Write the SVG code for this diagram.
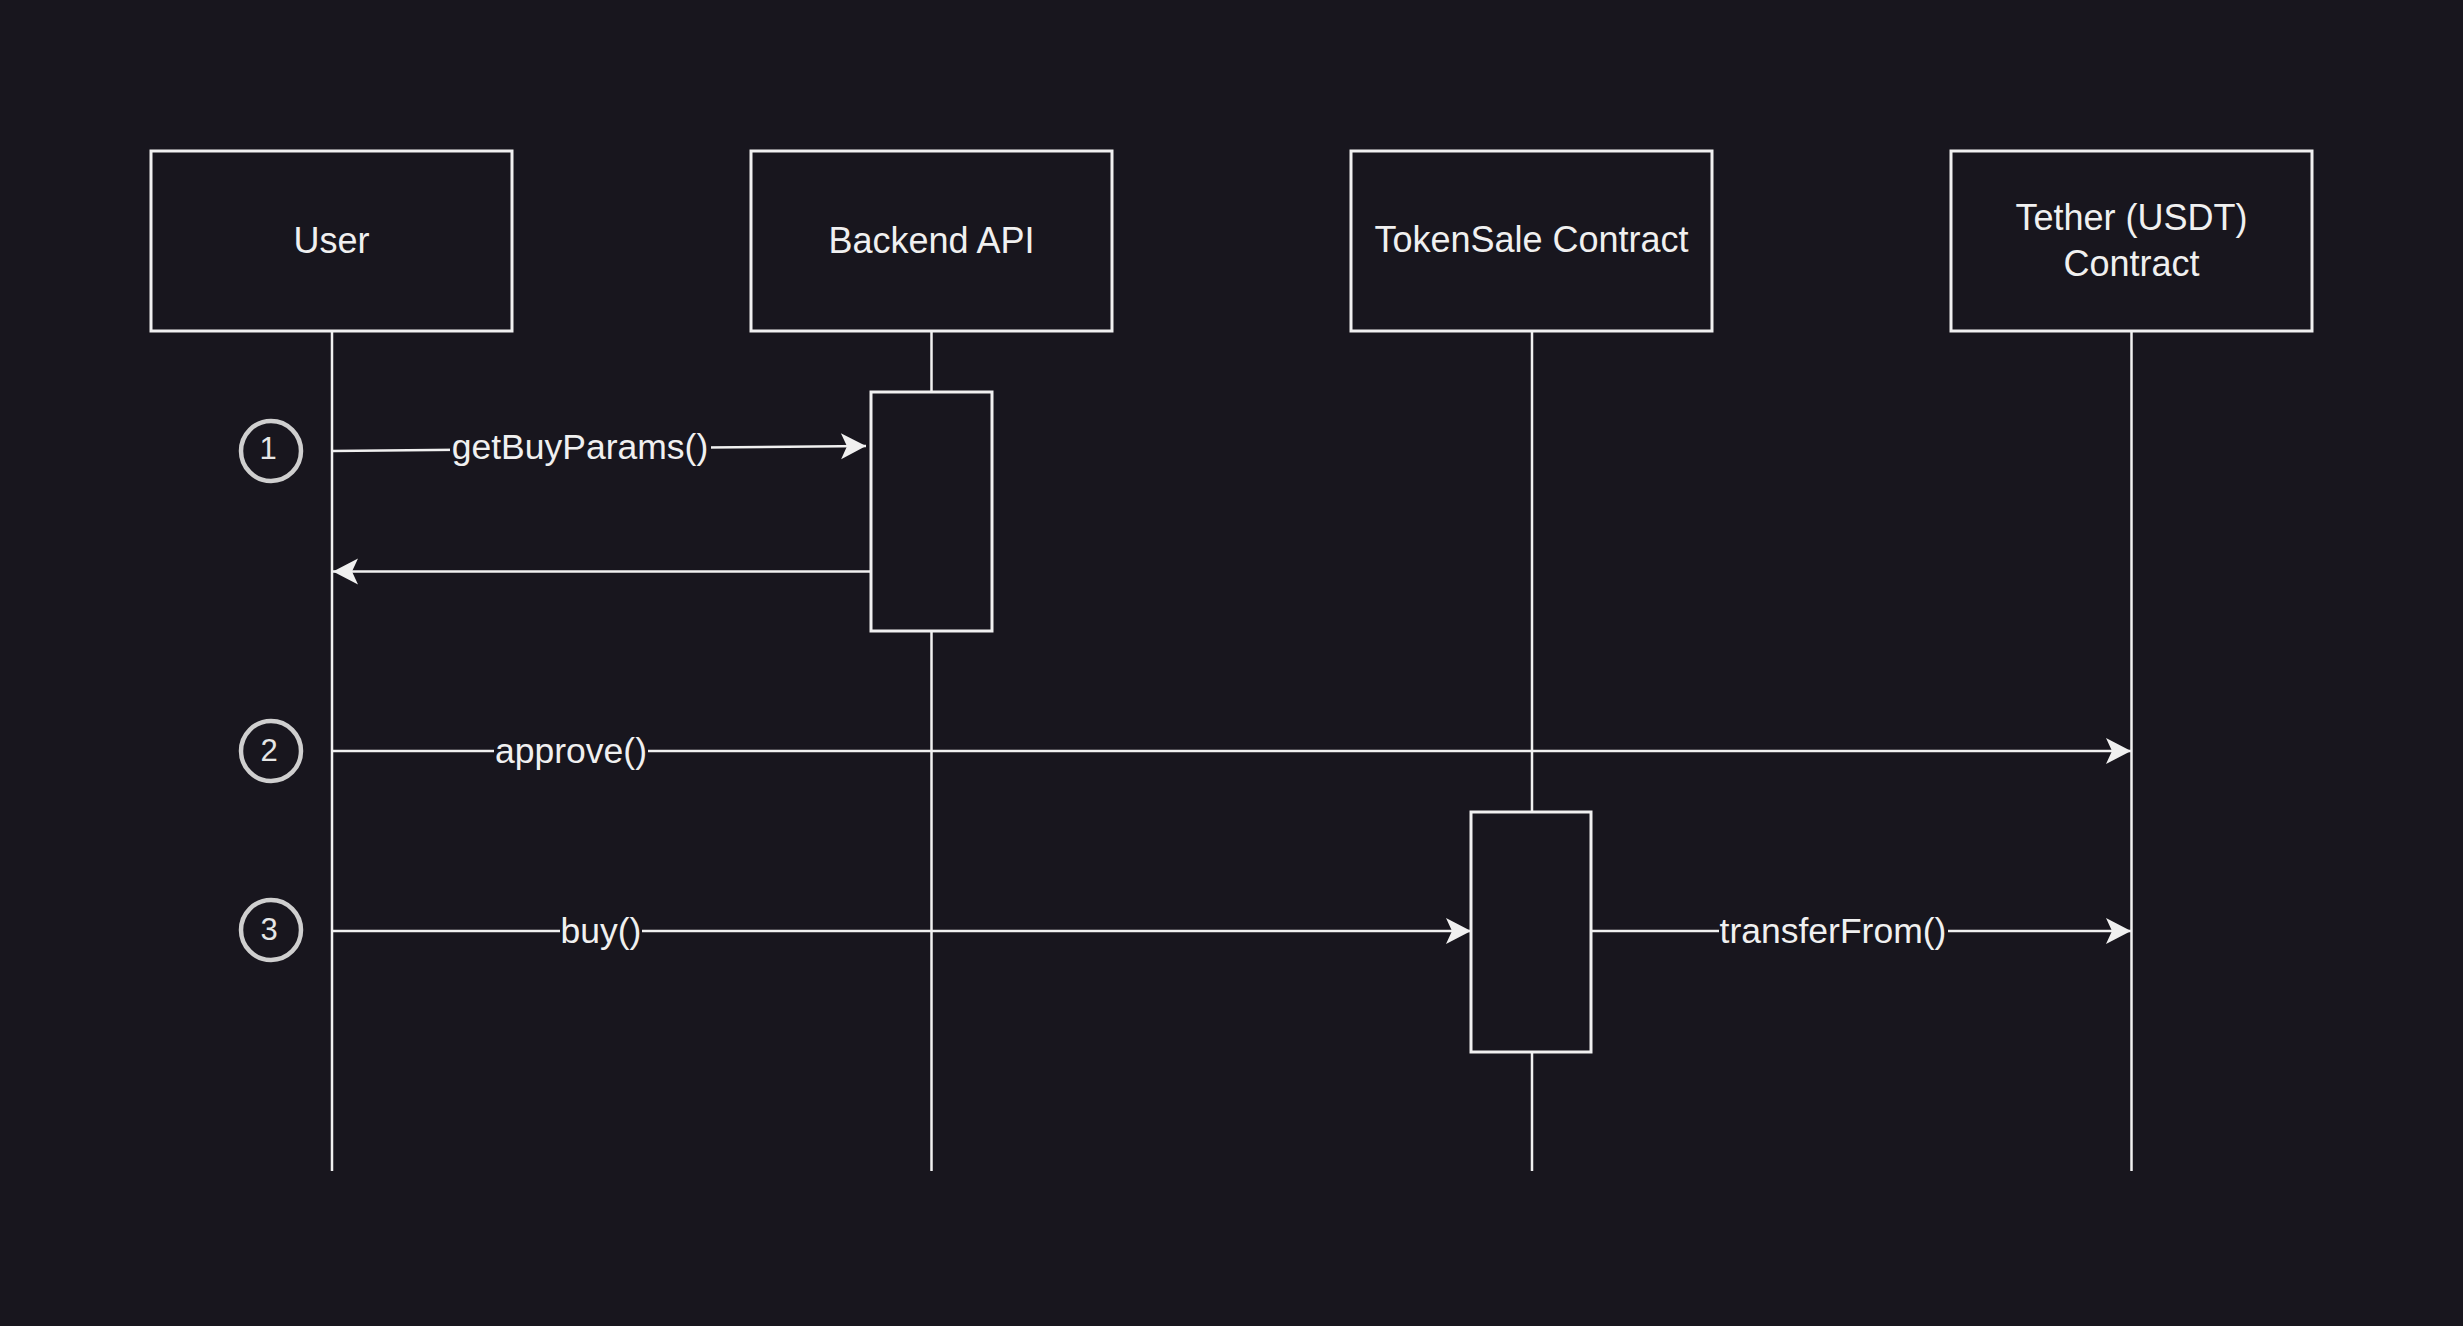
<svg xmlns="http://www.w3.org/2000/svg" width="2463" height="1326" viewBox="0 0 2463 1326">
<style>
.bg{fill:#18161e}
.box{fill:#18161e;stroke:#f0f0f0;stroke-width:3}
.life{stroke:#f0f0f0;stroke-width:2.5;fill:none}
.msg{stroke:#f0f0f0;stroke-width:2.5;fill:none}
.lbl{font-family:"Liberation Sans",Arial,sans-serif;font-size:35.5px;fill:#f0f0f0;text-anchor:middle}
.nt{font-family:"Liberation Sans",Arial,sans-serif;font-size:36px;fill:#f0f0f0;text-anchor:middle}
.lbg{fill:#18161e}
.step{fill:none;stroke:#cfcfcf;stroke-width:4.5}
.stept{font-family:"Liberation Sans",Arial,sans-serif;font-size:31px;fill:#e6e6e6;text-anchor:middle}
</style>
<defs>
<marker id="arr" markerUnits="userSpaceOnUse" markerWidth="30" markerHeight="30" viewBox="-27 -15 30 30" refX="0" refY="0" orient="auto">
<path d="M0,0 L-25,-13 L-19,0 L-25,13 Z" fill="#f0f0f0"/>
</marker>
</defs>
<rect class="bg" x="0" y="0" width="2463" height="1326"/>

<g id="lifelines">
<line class="life" x1="332" y1="331" x2="332" y2="1171"/>
<line class="life" x1="931.5" y1="331" x2="931.5" y2="1171"/>
<line class="life" x1="1532" y1="331" x2="1532" y2="1171"/>
<line class="life" x1="2131.5" y1="331" x2="2131.5" y2="1171"/>
</g>

<g id="node-user">
<rect class="box" x="151" y="151" width="361" height="180"/>
<text class="nt" x="331.5" y="253">User</text>
</g>
<g id="node-backend">
<rect class="box" x="751" y="151" width="361" height="180"/>
<text class="nt" x="931.5" y="253">Backend API</text>
</g>
<g id="node-tokensale">
<rect class="box" x="1351" y="151" width="361" height="180"/>
<text class="nt" x="1531.5" y="252">TokenSale Contract</text>
</g>
<g id="node-tether">
<rect class="box" x="1951" y="151" width="361" height="180"/>
<text class="nt" x="2131.5" y="230">Tether (USDT)</text>
<text class="nt" x="2131.5" y="276">Contract</text>
</g>

<g id="activation-backend">
<rect class="box" x="871" y="392" width="121" height="239"/>
</g>
<g id="activation-tokensale">
<rect class="box" x="1471" y="812" width="120" height="240"/>
</g>

<g id="connectors">
<line class="msg" x1="332" y1="451" x2="866" y2="446" marker-end="url(#arr)"/>
<line class="msg" x1="871" y1="571.5" x2="333" y2="571.5" marker-end="url(#arr)"/>
<line class="msg" x1="332" y1="751" x2="2131" y2="751" marker-end="url(#arr)"/>
<line class="msg" x1="332" y1="931" x2="1471" y2="931" marker-end="url(#arr)"/>
<line class="msg" x1="1591" y1="931" x2="2131" y2="931" marker-end="url(#arr)"/>
<rect class="lbg" x="450" y="426" width="261" height="42"/>
<text class="lbl" x="580" y="459">getBuyParams()</text>
<rect class="lbg" x="494" y="730" width="154" height="42"/>
<text class="lbl" x="571" y="763">approve()</text>
<rect class="lbg" x="560" y="910" width="82" height="42"/>
<text class="lbl" x="601" y="943">buy()</text>
<rect class="lbg" x="1719" y="910" width="229" height="42"/>
<text class="lbl" x="1833" y="943">transferFrom()</text>
</g>

<g id="step-1">
<circle class="step" cx="271" cy="451" r="30"/>
<text class="stept" x="268" y="459">1</text>
</g>
<g id="step-2">
<circle class="step" cx="271" cy="751" r="30"/>
<text class="stept" x="269" y="761">2</text>
</g>
<g id="step-3">
<circle class="step" cx="271" cy="930" r="30"/>
<text class="stept" x="269" y="940">3</text>
</g>
</svg>
